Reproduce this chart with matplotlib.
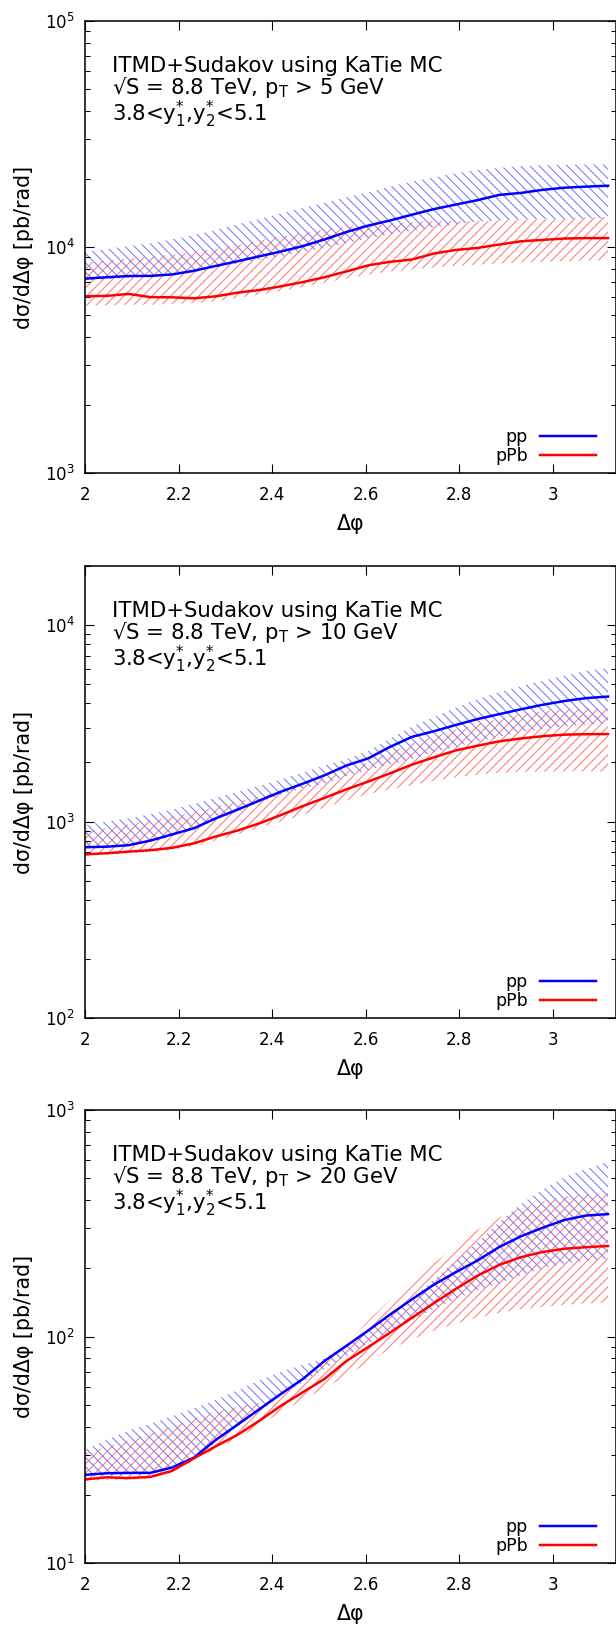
import matplotlib
matplotlib.use("Agg")
import matplotlib.pyplot as plt
from matplotlib.ticker import LogLocator, FuncFormatter, NullFormatter, MultipleLocator

plt.rcParams['font.family'] = ['DejaVu Sans']
plt.rcParams['mathtext.default'] = 'regular'
plt.rcParams['hatch.linewidth'] = 0.7

# delta phi bins (same for all three panels)
dphi = [2.000, 2.047, 2.093, 2.140, 2.186, 2.233, 2.280, 2.326, 2.373, 2.419,
        2.466, 2.512, 2.559, 2.606, 2.652, 2.699, 2.745, 2.792, 2.838, 2.885,
        2.932, 2.978, 3.025, 3.071, 3.118]

### pT > 5 GeV
pt5_pp = [7240, 7350, 7440, 7450, 7560, 7850, 8250, 8650, 9100, 9550,
          10100, 10800, 11650, 12450, 13100, 13900, 14700, 15400, 16100, 17000,
          17350, 17900, 18300, 18500, 18670]
pt5_pp_hi = [9500, 9800, 10100, 10400, 10800, 11300, 11900, 12600, 13300, 14100,
             14900, 15700, 16600, 17500, 18500, 19500, 20300, 21200, 21900, 22400,
             22800, 23000, 23100, 23200, 23200]
pt5_pp_lo = [7100, 7200, 7300, 7400, 7500, 7750, 8100, 8450, 8800, 9100,
             9500, 9900, 10400, 10900, 11400, 11800, 12200, 12600, 12950, 13100,
             13200, 13250, 13300, 13350, 13400]
pt5_ppb = [6050, 6080, 6200, 6000, 5990, 5930, 6050, 6280, 6450, 6700,
           7000, 7350, 7800, 8300, 8600, 8800, 9350, 9700, 9900, 10250,
           10600, 10750, 10900, 10950, 10950]
pt5_ppb_hi = [8500, 8700, 8900, 9050, 9250, 9500, 9800, 10200, 10700, 11100,
              11500, 12000, 12300, 12500, 12700, 12900, 13000, 13000, 13050, 13100,
              13150, 13200, 13300, 13500, 13600]
pt5_ppb_lo = [5500, 5520, 5550, 5550, 5600, 5650, 5750, 5950, 6150, 6400,
              6650, 6950, 7250, 7550, 7800, 7950, 8100, 8250, 8350, 8450,
              8550, 8600, 8650, 8700, 8750]

### pT > 10 GeV
pt10_pp = [740, 745, 758, 800, 860, 925, 1040, 1150, 1280, 1420,
           1560, 1720, 1930, 2100, 2400, 2700, 2880, 3100, 3320, 3520,
           3730, 3930, 4110, 4250, 4330]
pt10_pp_hi = [960, 1000, 1040, 1090, 1150, 1230, 1320, 1420, 1520, 1640,
              1780, 1930, 2080, 2300, 2650, 3050, 3400, 3800, 4200, 4550,
              4900, 5200, 5550, 5850, 6050]
pt10_pp_lo = [735, 740, 750, 790, 845, 910, 1020, 1120, 1250, 1370,
              1480, 1560, 1700, 1830, 1950, 2080, 2250, 2400, 2550, 2700,
              2850, 2960, 3050, 3120, 3170]
pt10_ppb = [681, 690, 703, 715, 735, 775, 840, 900, 980, 1080,
            1200, 1320, 1460, 1600, 1760, 1950, 2120, 2300, 2430, 2560,
            2650, 2720, 2770, 2785, 2790]
pt10_ppb_hi = [890, 930, 970, 1010, 1060, 1120, 1190, 1260, 1340, 1440,
               1550, 1670, 1790, 2000, 2250, 2500, 2720, 2930, 3130, 3330,
               3500, 3650, 3720, 3750, 3750]
pt10_ppb_lo = [670, 680, 690, 700, 715, 750, 800, 860, 930, 1000,
               1080, 1180, 1280, 1380, 1460, 1530, 1610, 1680, 1730, 1770,
               1790, 1800, 1800, 1800, 1800]

### pT > 20 GeV
pt20_pp = [24.5, 24.9, 25.0, 25.0, 26.4, 29.2, 35.0, 40.8, 47.8, 55.8,
           65.0, 78, 91, 106.5, 125, 146, 169, 192, 216, 248,
           277, 302, 327, 342, 347]
pt20_pp_hi = [31.6, 35, 38.5, 41.2, 44.5, 48.2, 52.5, 58, 64, 70,
              75, 80, 92, 108, 126, 148, 178, 215, 260, 320,
              385, 445, 505, 550, 590]
pt20_pp_lo = [24.0, 24.4, 24.5, 24.5, 25.8, 28.6, 34.3, 40.0, 46.8, 54.5,
              63, 72, 82, 93, 105, 118, 132, 146, 160, 172,
              186, 200, 210, 216, 220]
pt20_ppb = [23.4, 23.9, 23.7, 24.0, 25.5, 29.0, 32.8, 36.8, 42.5, 49.5,
            56.8, 65, 78, 90, 104, 121, 140, 162, 185, 207,
            224, 236, 244, 248, 251]
pt20_ppb_hi = [30.5, 32.5, 34.8, 37.2, 40, 43.5, 46.5, 49, 51, 55,
               64, 76, 92, 118, 145, 172, 210, 250, 295, 335,
               370, 395, 415, 425, 430]
pt20_ppb_lo = [23.0, 23.3, 23.3, 23.6, 25.0, 28.3, 31.8, 35.5, 40.5, 46.5,
               52.5, 59, 67, 77, 88, 97, 106, 114, 121, 127,
               132, 135, 138, 140, 141]

pt_cuts = ["5", "10", "20"]
ylims = [(1e3, 1e5), (1e2, 2e4), (1e1, 1e3)]
curves = [
    (pt5_pp, pt5_pp_lo, pt5_pp_hi, pt5_ppb, pt5_ppb_lo, pt5_ppb_hi),
    (pt10_pp, pt10_pp_lo, pt10_pp_hi, pt10_ppb, pt10_ppb_lo, pt10_ppb_hi),
    (pt20_pp, pt20_pp_lo, pt20_pp_hi, pt20_ppb, pt20_ppb_lo, pt20_ppb_hi),
]

W, H, DPI = 616, 1629, 112
fig = plt.figure(figsize=(W / DPI, H / DPI), dpi=DPI)

# axes boxes in pixels: top, bottom
boxes = [(21, 473), (566, 1018), (1110, 1563)]
left_px, right_px = 85, 615.5

for i in range(3):
    top, bot = boxes[i]
    ax = fig.add_axes([left_px / W, 1 - bot / H, (right_px - left_px) / W, (bot - top) / H])
    pp, pp_lo, pp_hi, ppb, ppb_lo, ppb_hi = curves[i]

    # uncertainty bands (hatched)
    ax.fill_between(dphi, ppb_lo, ppb_hi, facecolor='none', edgecolor='#ff7f7f',
                    linewidth=0, hatch='////')
    ax.fill_between(dphi, pp_lo, pp_hi, facecolor='none', edgecolor='#7f7fff',
                    linewidth=0, hatch='\\\\\\\\')
    ax.plot(dphi, pp, color='#0000ff', lw=1.6, label='pp')
    ax.plot(dphi, ppb, color='#ff0000', lw=1.6, label='pPb')

    ax.set_yscale('log')
    ax.set_xlim(2, 3.134)
    ax.set_ylim(*ylims[i])
    ax.xaxis.set_major_locator(MultipleLocator(0.2))
    ax.xaxis.set_major_formatter(FuncFormatter(lambda v, p: "%g" % round(v, 2)))
    ax.yaxis.set_major_locator(LogLocator(base=10))
    ax.yaxis.set_minor_locator(LogLocator(base=10, subs=range(2, 10)))
    ax.yaxis.set_minor_formatter(NullFormatter())

    ax.tick_params(which='both', direction='in', top=True, right=True, width=0.7)
    ax.tick_params(which='major', length=5.5, labelsize=10.7)
    ax.tick_params(which='minor', length=3)
    ax.tick_params(axis='x', pad=8.5)
    ax.tick_params(axis='y', pad=6.4)
    for s in ax.spines.values():
        s.set_linewidth(1.0)

    ax.set_xlabel('Δφ', fontsize=13.2)
    ax.xaxis.set_label_coords(0.5, -0.09)
    ax.set_ylabel('dσ/dΔφ [pb/rad]', fontsize=13.2)
    ax.yaxis.set_label_coords(-0.096, 0.5)

    info = ('ITMD+Sudakov using KaTie MC\n'
            '√S = 8.8 TeV, p$_{T}$ > ' + pt_cuts[i] + ' GeV\n'
            '3.8<$y^{*}_{1}$,$y^{*}_{2}$<5.1')
    ax.text(0.051, 0.922, info, transform=ax.transAxes, fontsize=13.7,
            va='top', linespacing=0.93)

    ax.legend(loc='lower right', bbox_to_anchor=(0.963, 0.018), frameon=False,
              markerfirst=False, fontsize=11.2, handlelength=3.2, handletextpad=0.7,
              labelspacing=0.06, borderpad=0, borderaxespad=0)

fig.savefig('out.png', dpi=DPI)
